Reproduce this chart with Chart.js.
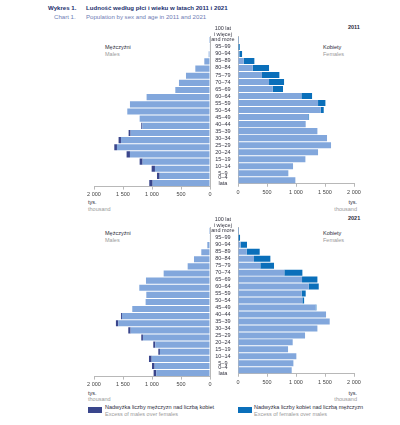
<!DOCTYPE html>
<html lang="pl">
<head>
<meta charset="UTF-8" />
<title>Ludność według płci i wieku w latach 2011 i 2021</title>
<style>
  body { margin: 0; background: #fff; font-family: "Liberation Sans", Arial, sans-serif; }
  #wrap { position: relative; width: 400px; height: 425px; overflow: hidden; }
  #wrap canvas { position: absolute; }
  .t { position: absolute; white-space: nowrap; line-height: 1; }
  .pl { color: #2b2b3a; }
  .en { color: #9a9a9a; }
  .sw { position: absolute; width: 14px; height: 6px; }
</style>
</head>
<body>
<div id="wrap">
  <div class="t" style="left:48px;top:5px;font-size:6.1px;font-weight:bold;color:#23306e;">Wykres 1.</div>
  <div class="t" style="left:86px;top:5px;font-size:6.1px;font-weight:bold;color:#23306e;">Ludność według płci i wieku w latach 2011 i 2021</div>
  <div class="t" style="left:54px;top:14px;font-size:6.1px;color:#6f7db5;">Chart 1.</div>
  <div class="t" style="left:86px;top:14px;font-size:6.1px;color:#6f7db5;">Population by sex and age in 2011 and 2021</div>

  <div class="t pl" style="left:348px;top:25px;font-size:5.5px;font-weight:bold;">2011</div>
  <div class="t pl" style="left:105px;top:45px;font-size:5.5px;">Mężczyźni</div>
  <div class="t en" style="left:105px;top:52px;font-size:5.5px;">Males</div>
  <div class="t pl" style="left:323px;top:45px;font-size:5.5px;">Kobiety</div>
  <div class="t en" style="left:323px;top:52px;font-size:5.5px;">Females</div>
  <div class="t pl" style="left:88px;top:200px;font-size:5.5px;">tys.</div>
  <div class="t en" style="left:88px;top:207px;font-size:5.5px;">thousand</div>
  <div class="t pl" style="right:43px;top:200px;font-size:5.5px;">tys.</div>
  <div class="t en" style="right:43px;top:207px;font-size:5.5px;">thousand</div>

  <div class="t pl" style="left:348px;top:216px;font-size:5.5px;font-weight:bold;">2021</div>
  <div class="t pl" style="left:105px;top:231px;font-size:5.5px;">Mężczyźni</div>
  <div class="t en" style="left:105px;top:238px;font-size:5.5px;">Males</div>
  <div class="t pl" style="left:323px;top:231px;font-size:5.5px;">Kobiety</div>
  <div class="t en" style="left:323px;top:238px;font-size:5.5px;">Females</div>
  <div class="t pl" style="left:88px;top:391px;font-size:5.5px;">tys.</div>
  <div class="t en" style="left:88px;top:397px;font-size:5.5px;">thousand</div>
  <div class="t pl" style="right:43px;top:391px;font-size:5.5px;">tys.</div>
  <div class="t en" style="right:43px;top:397px;font-size:5.5px;">thousand</div>

  <div class="sw" style="left:88px;top:407px;background:#3a468c;"></div>
  <div class="t pl" style="left:105px;top:404.5px;font-size:5.5px;">Nadwyżka liczby mężczyzn nad liczbą kobiet</div>
  <div class="t en" style="left:105px;top:411.5px;font-size:5.5px;">Excess of males over females</div>
  <div class="sw" style="left:238px;top:407px;background:#0a6fba;"></div>
  <div class="t pl" style="left:254px;top:404.5px;font-size:5.5px;">Nadwyżka liczby kobiet nad liczbą mężczyzn</div>
  <div class="t en" style="left:254px;top:411.5px;font-size:5.5px;">Excess of females over males</div>

  <canvas id="m2011" width="135" height="181" style="left:80px;top:20px;"></canvas>
  <canvas id="f2011" width="156" height="181" style="left:209px;top:20px;"></canvas>
  <canvas id="m2021" width="135" height="181" style="left:80px;top:210px;"></canvas>
  <canvas id="f2021" width="156" height="181" style="left:209px;top:210px;"></canvas>
</div>

<script src="https://cdn.jsdelivr.net/npm/chart.js"></script>
<script>
  // grupy wieku, od góry (100+) do dołu (0-4)
  const ageLabels = [
    ["100 lat", "i więcej", "and more", "", ""],
    "95–99", "90–94", "85–89", "80–84", "75–79", "70–74", "65–69", "60–64",
    "55–59", "50–54", "45–49", "40–44", "35–39", "30–34", "25–29", "20–24",
    "15–19", "10–14", "5–9", ["0–4", "lata"]
  ];

  // tys. osób
  const males2011 = [1, 10, 23, 98, 253, 414, 535, 598, 1093, 1380, 1426, 1213, 1185,
                     1403, 1576, 1650, 1438, 1213, 1006, 914, 1047];
  const females2011 = [3, 30, 70, 282, 535, 713, 794, 776, 1277, 1507, 1478, 1225, 1167,
                       1369, 1535, 1604, 1380, 1162, 949, 868, 989];
  const males2021 = [1, 10, 46, 150, 276, 385, 799, 1104, 1219, 1098, 1110, 1340, 1535,
                     1622, 1409, 1185, 978, 891, 1052, 1000, 972];
  const females2021 = [4, 35, 155, 374, 558, 621, 1110, 1369, 1392, 1167, 1140, 1351, 1518,
                       1581, 1369, 1156, 943, 863, 1006, 955, 926];

  const xTicks = [0, 500, 1000, 1500, 2000];

  const LIGHT = "#82a7dc";
  const MALE_EXCESS = "#3a468c";
  const FEMALE_EXCESS = "#0a6fba";
  const AXIS = "#b8b8b8";
  const TXT = "#333340";

  function fmt(v) {
    return v >= 1000 ? Math.floor(v / 1000) + " " + String(v % 1000).padStart(3, "0") : String(v);
  }

  function makePanel(id, own, other, excessColor, isLeft, padTop) {
    const common = own.map((v, i) => Math.min(v, other[i]));
    const excess = own.map((v, i) => Math.max(v - other[i], 0));
    const ctx = document.getElementById(id).getContext("2d");
    return new Chart(ctx, {
      type: "bar",
      data: {
        labels: ageLabels,
        datasets: [
          { data: common, backgroundColor: LIGHT },
          { data: excess, backgroundColor: excessColor }
        ]
      },
      options: {
        indexAxis: "y",
        responsive: false,
        animation: false,
        devicePixelRatio: 1,
        layout: { padding: { top: padTop, bottom: 0, left: isLeft ? 14 : 0, right: isLeft ? 5 : 11 } },
        datasets: { bar: { barPercentage: 0.86, categoryPercentage: 1, borderWidth: 0 } },
        plugins: { legend: { display: false }, tooltip: { enabled: false } },
        scales: {
          x: {
            stacked: true,
            reverse: isLeft,
            min: 0,
            max: 2000,
            afterBuildTicks: (s) => { s.ticks = xTicks.map(v => ({ value: v })); },
            afterFit: (s) => { s.height = 14.4; },
            ticks: {
              callback: (v) => fmt(v),
              color: "#444",
              font: { size: 5.5, family: "'Liberation Sans', Arial, sans-serif" },
              padding: 2,
              maxRotation: 0
            },
            grid: { display: true, drawOnChartArea: false, drawTicks: true, tickLength: 3, color: AXIS },
            border: { display: true, color: AXIS, width: 1 }
          },
          y: {
            stacked: true,
            position: isLeft ? "right" : "left",
            afterFit: (s) => { s.width = isLeft ? 0 : 29; },
            ticks: {
              display: !isLeft,
              autoSkip: false,
              crossAlign: "center",
              padding: 3.5,
              color: TXT,
              font: { size: 5.5, lineHeight: 1, family: "'Liberation Sans', Arial, sans-serif" }
            },
            grid: { display: false, drawTicks: false },
            border: { display: true, color: AXIS, width: 1 }
          }
        }
      }
    });
  }

  makePanel("m2011", males2011, females2011, MALE_EXCESS, true, 16.4);
  makePanel("f2011", females2011, males2011, FEMALE_EXCESS, false, 16.4);
  makePanel("m2021", males2021, females2021, MALE_EXCESS, true, 17.3);
  makePanel("f2021", females2021, males2021, FEMALE_EXCESS, false, 17.3);
</script>
</body>
</html>
